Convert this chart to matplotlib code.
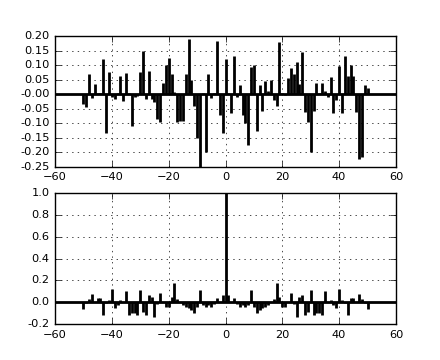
import matplotlib
matplotlib.use("Agg")
import matplotlib.pyplot as plt
import numpy as np

plt.style.use('classic')
plt.rcParams['xtick.labelsize'] = 8.2
plt.rcParams['ytick.labelsize'] = 8.2

lags = list(range(-50, 51))

xcorr_vals = [
    -0.035, -0.045, 0.068, -0.012, 0.035, 0.005, 0.003, 0.120, -0.135, 0.075,
    -0.010, -0.018, 0.005, 0.062, -0.025, 0.072, 0.003, -0.108, -0.008, -0.005,
    0.075, 0.148, -0.018, 0.078, -0.015, -0.028, -0.085, -0.097, 0.040, 0.100,
    0.125, 0.068, 0.008, -0.095, -0.092, -0.092, 0.068, 0.190, 0.050, -0.040,
    -0.150, -0.260, 0.004, -0.200, 0.070, -0.012, 0.004, 0.184, -0.070, -0.132,
    0.122,
    0.003, -0.064, 0.131, -0.011, 0.030, -0.073, -0.098, -0.173, 0.095, 0.100,
    -0.127, 0.030, -0.057, 0.045, 0.010, 0.050, -0.020, -0.040, 0.180, 0.004,
    -0.003, 0.057, 0.090, 0.068, 0.110, 0.036, 0.145, -0.060, -0.097, -0.200,
    -0.058, 0.037, 0.005, 0.038, 0.012, -0.008, 0.060, -0.063, -0.020, 0.097,
    -0.063, 0.132, 0.063, 0.100, 0.063, -0.060, -0.223, -0.215, 0.030, 0.022,
]

acorr_vals = [
    -0.060, -0.005, 0.030, 0.077, 0.005, 0.035, 0.040, -0.120, -0.008, 0.022,
    0.123, -0.055, -0.030, 0.016, 0.005, 0.100, -0.120, -0.100, -0.100, -0.117,
    0.108, -0.088, -0.120, 0.070, 0.043, -0.140, -0.020, 0.080, 0.005, -0.042,
    -0.046, 0.043, 0.172, 0.030, 0.005, -0.028, -0.043, -0.055, -0.075, -0.100,
    -0.045, 0.108, -0.030, -0.046, -0.030, -0.046, -0.015, 0.040, 0.005, 0.070,
    1.000,
    0.070, 0.005, 0.040, -0.015, -0.046, -0.030, -0.046, -0.030, 0.108, -0.045,
    -0.100, -0.075, -0.055, -0.043, -0.028, 0.005, 0.030, 0.172, 0.043, -0.046,
    -0.042, 0.005, 0.080, -0.020, -0.140, 0.043, 0.070, -0.120, -0.088, 0.108,
    -0.117, -0.100, -0.100, -0.120, 0.100, 0.005, 0.016, -0.030, -0.055, 0.123,
    0.022, -0.008, -0.120, 0.040, 0.035, 0.005, 0.077, 0.030, -0.005, -0.060,
]

fig = plt.figure(figsize=(4.4, 3.6), dpi=100)
ax1 = fig.add_subplot(211)
ax1.vlines(lags, 0, xcorr_vals, colors='k', lw=2)
ax1.axhline(0, color='k', lw=2)
ax1.grid(True)
ax1.set_xlim(-60, 60)
ax1.set_ylim(-0.25, 0.20)
ax1.set_yticks(np.arange(-0.25, 0.2001, 0.05))
ax1.yaxis.set_major_formatter(matplotlib.ticker.FormatStrFormatter('%.2f'))

ax2 = fig.add_subplot(212)
ax2.vlines(lags, 0, acorr_vals, colors='k', lw=2)
ax2.axhline(0, color='k', lw=2)
ax2.grid(True)
ax2.set_xlim(-60, 60)
ax2.set_ylim(-0.2, 1.0)
ax2.set_yticks(np.arange(-0.2, 1.001, 0.2))
ax2.yaxis.set_major_formatter(matplotlib.ticker.FormatStrFormatter('%.1f'))

fig.savefig('out.png', dpi=100, facecolor='white')
